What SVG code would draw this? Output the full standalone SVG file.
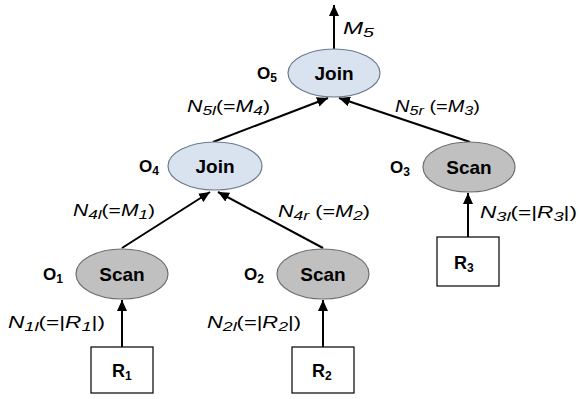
<svg xmlns="http://www.w3.org/2000/svg" width="580" height="399" viewBox="0 0 580 399">
  <defs>
    <marker id="arrow" markerWidth="12" markerHeight="10" refX="11" refY="5" orient="auto" markerUnits="userSpaceOnUse">
      <path d="M0,0 L11,5 L0,10 z" fill="#000"/>
    </marker>
    <style>
      .edge { stroke: #000; stroke-width: 2; fill: none; marker-end: url(#arrow); }
      .join { fill: #d9e2ef; stroke: #6b7a90; stroke-width: 1.2; }
      .scan { fill: #c0c0c0; stroke: #6e6e6e; stroke-width: 1.2; }
      .rel { fill: #fff; stroke: #000; stroke-width: 1.2; }
      .op { font-family: "Liberation Sans", Arial, sans-serif; font-weight: bold; font-size: 19px; text-anchor: middle; fill: #000; }
      .tag { font-family: "Liberation Sans", Arial, sans-serif; font-weight: bold; font-size: 17px; fill: #000; }
      .rtag { font-size: 18px; }
      .lbl { font-family: "Liberation Sans", Arial, sans-serif; font-size: 16px; fill: #000; }
      .it { font-style: italic; }
      .sub { font-size: 12px; }
      .lsub { font-size: 13px; }
    </style>
  </defs>

  <!-- connectors -->
  <g id="connectors">
    <line class="edge" x1="334" y1="49" x2="334" y2="5"/>
    <line class="edge" x1="213" y1="142" x2="328" y2="98"/>
    <line class="edge" x1="470" y1="142" x2="339" y2="98"/>
    <line class="edge" x1="122" y1="248" x2="210" y2="192"/>
    <line class="edge" x1="323" y1="248" x2="218" y2="192"/>
    <line class="edge" x1="122" y1="347" x2="122" y2="300"/>
    <line class="edge" x1="323" y1="347" x2="323" y2="300"/>
    <line class="edge" x1="468" y1="237" x2="468" y2="193"/>
  </g>

  <!-- edge labels -->
  <g id="edge-labels">
    <text class="lbl it" x="343" y="34" textLength="31" lengthAdjust="spacingAndGlyphs">M<tspan class="lsub" dy="3">5</tspan></text>
    <text class="lbl" x="187" y="112" textLength="83" lengthAdjust="spacingAndGlyphs"><tspan class="it">N</tspan><tspan class="lsub it" dy="3">5l</tspan><tspan dy="-3">(=</tspan><tspan class="it">M</tspan><tspan class="lsub it" dy="3">4</tspan><tspan dy="-3">)</tspan></text>
    <text class="lbl" x="395" y="112" textLength="85" lengthAdjust="spacingAndGlyphs"><tspan class="it">N</tspan><tspan class="lsub it" dy="3">5r</tspan><tspan dy="-3"> (=</tspan><tspan class="it">M</tspan><tspan class="lsub it" dy="3">3</tspan><tspan dy="-3">)</tspan></text>
    <text class="lbl" x="73" y="216" textLength="82" lengthAdjust="spacingAndGlyphs"><tspan class="it">N</tspan><tspan class="lsub it" dy="3">4l</tspan><tspan dy="-3">(=</tspan><tspan class="it">M</tspan><tspan class="lsub it" dy="3">1</tspan><tspan dy="-3">)</tspan></text>
    <text class="lbl" x="278" y="217" textLength="92" lengthAdjust="spacingAndGlyphs"><tspan class="it">N</tspan><tspan class="lsub it" dy="3">4r</tspan><tspan dy="-3"> (=</tspan><tspan class="it">M</tspan><tspan class="lsub it" dy="3">2</tspan><tspan dy="-3">)</tspan></text>
    <text class="lbl" x="480" y="218" textLength="97" lengthAdjust="spacingAndGlyphs"><tspan class="it">N</tspan><tspan class="lsub it" dy="3">3l</tspan><tspan dy="-3">(=|</tspan><tspan class="it">R</tspan><tspan class="lsub it" dy="3">3</tspan><tspan dy="-3">|)</tspan></text>
    <text class="lbl" x="8" y="328" textLength="97" lengthAdjust="spacingAndGlyphs"><tspan class="it">N</tspan><tspan class="lsub it" dy="3">1l</tspan><tspan dy="-3">(=|</tspan><tspan class="it">R</tspan><tspan class="lsub it" dy="3">1</tspan><tspan dy="-3">|)</tspan></text>
    <text class="lbl" x="207" y="328" textLength="94" lengthAdjust="spacingAndGlyphs"><tspan class="it">N</tspan><tspan class="lsub it" dy="3">2l</tspan><tspan dy="-3">(=|</tspan><tspan class="it">R</tspan><tspan class="lsub it" dy="3">2</tspan><tspan dy="-3">|)</tspan></text>
  </g>

  <!-- operators -->
  <g id="O5">
    <ellipse class="join" cx="334" cy="73" rx="46" ry="24"/>
    <text class="op" x="334" y="80">Join</text>
    <text class="tag" x="257" y="79">O<tspan class="sub" dy="3">5</tspan></text>
  </g>
  <g id="O4">
    <ellipse class="join" cx="215" cy="166" rx="47" ry="24"/>
    <text class="op" x="215" y="173">Join</text>
    <text class="tag" x="139" y="172">O<tspan class="sub" dy="3">4</tspan></text>
  </g>
  <g id="O3">
    <ellipse class="scan" cx="469" cy="167" rx="46" ry="25"/>
    <text class="op" x="469" y="174">Scan</text>
    <text class="tag" x="390" y="173">O<tspan class="sub" dy="3">3</tspan></text>
  </g>
  <g id="O1">
    <ellipse class="scan" cx="122" cy="274" rx="46" ry="25"/>
    <text class="op" x="122" y="281">Scan</text>
    <text class="tag" x="43" y="280">O<tspan class="sub" dy="3">1</tspan></text>
  </g>
  <g id="O2">
    <ellipse class="scan" cx="323" cy="274" rx="46" ry="25"/>
    <text class="op" x="323" y="281">Scan</text>
    <text class="tag" x="244" y="280">O<tspan class="sub" dy="3">2</tspan></text>
  </g>

  <!-- base relations -->
  <g id="R1">
    <rect class="rel" x="91" y="347" width="62" height="46"/>
    <text class="tag rtag" x="112" y="377">R<tspan class="sub" dy="3">1</tspan></text>
  </g>
  <g id="R2">
    <rect class="rel" x="292" y="347" width="62" height="46"/>
    <text class="tag rtag" x="312" y="377">R<tspan class="sub" dy="3">2</tspan></text>
  </g>
  <g id="R3">
    <rect class="rel" x="437" y="237" width="62" height="49"/>
    <text class="tag rtag" x="454" y="269">R<tspan class="sub" dy="3">3</tspan></text>
  </g>
</svg>
